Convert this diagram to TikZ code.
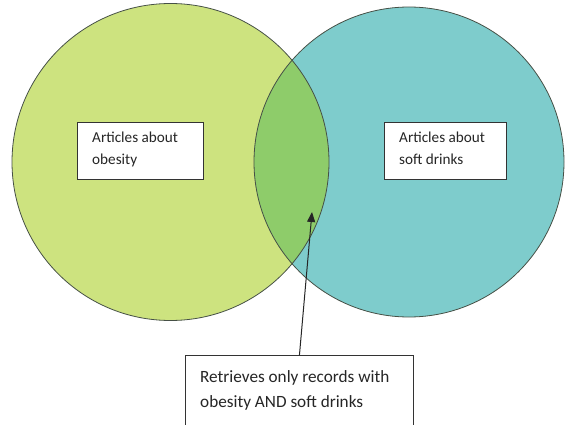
\documentclass[tikz,border=0pt]{standalone}
\usepackage{fontspec}
\setmainfont{Carlito}
\usetikzlibrary{arrows.meta}
\definecolor{leftgreen}{RGB}{205,227,127}
\definecolor{rightteal}{RGB}{126,204,204}
\definecolor{lensgreen}{RGB}{142,204,106}
\definecolor{ringgray}{RGB}{70,80,70}
\begin{document}
\begin{tikzpicture}[x=1pt,y=-1pt,
  ring/.style={draw=ringgray,line width=0.8pt},
  labelbox/.style={draw=black!80,line width=0.9pt,fill=white,rectangle,inner sep=0pt,anchor=north west},
  labeltext/.style={anchor=north west,inner sep=0pt,align=left,text=black!85},
  pointer/.style={draw=black!85,line width=1pt,-{Triangle[length=10pt,width=8pt]}}]
\useasboundingbox (0,0) rectangle (565,425);
% circles
\fill[leftgreen] (170.5,162) circle[radius=158.5pt];
\fill[rightteal] (409,162) circle[radius=155pt];
\begin{scope}
  \clip (170.5,162) circle[radius=158.5pt];
  \fill[lensgreen] (409,162) circle[radius=155pt];
\end{scope}
\draw[ring] (170.5,162) circle[radius=158.5pt];
\draw[ring] (409,162) circle[radius=155pt];
% boxes
\node[labelbox,minimum width=126pt,minimum height=57pt] (lbox) at (77,122) {};
\node[labeltext,font=\fontsize{15.2}{22}\selectfont] (ltext) at (92,132) {Articles about\\obesity};
\node[labelbox,minimum width=122pt,minimum height=57pt] (rbox) at (384,122) {};
\node[labeltext,font=\fontsize{15.2}{22}\selectfont] (rtext) at (399,132) {Articles about\\soft drinks};
\node[labelbox,minimum width=228pt,minimum height=90pt] (bbox) at (185,355) {};
\node[labeltext,font=\fontsize{17.2}{25}\selectfont] (btext) at (200,370) {Retrieves only records with\\obesity AND soft drinks};
% arrow
\coordinate (tip) at (312,212);
\draw[pointer] (bbox.north) -- (tip);
\end{tikzpicture}
\end{document}
